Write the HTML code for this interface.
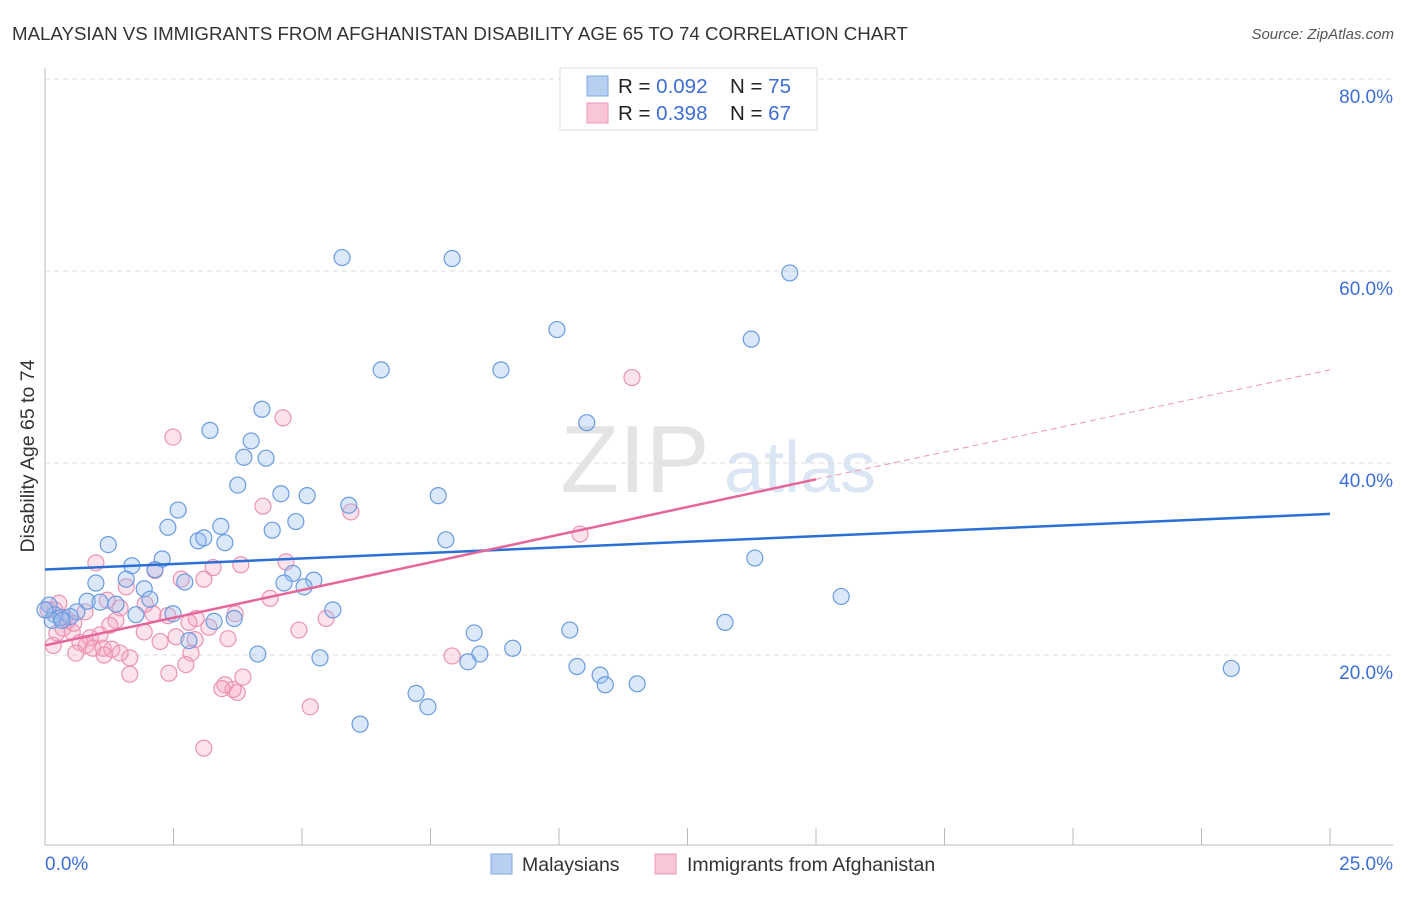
<!DOCTYPE html>
<html><head><meta charset="utf-8"><style>
body{margin:0;background:#fff;font-family:"Liberation Sans",sans-serif;}
svg text{font-family:"Liberation Sans",sans-serif;}
</style></head><body>
<svg id="chart" width="1406" height="892" xmlns="http://www.w3.org/2000/svg">
<text x="12" y="40" font-size="18.7" fill="#333">MALAYSIAN VS IMMIGRANTS FROM AFGHANISTAN DISABILITY AGE 65 TO 74 CORRELATION CHART</text>
<text x="1394" y="39" font-size="15" fill="#555" font-style="italic" text-anchor="end">Source: ZipAtlas.com</text>
<text x="635" y="492" font-size="96" fill="#e4e4e4" font-family="Liberation Serif" text-anchor="middle">ZIP</text>
<text x="800" y="492" font-size="72" fill="#dbe6f5" text-anchor="middle">atlas</text>
<g id="grid"></g><g id="axes"></g><g id="pts"></g><g id="trends"></g>
<text transform="translate(34,456) rotate(-90)" font-size="19.5" fill="#333" text-anchor="middle">Disability Age 65 to 74</text>
<g>
<rect x="560" y="68" width="257" height="62" fill="#fff" stroke="#ddd"/>
<rect x="587" y="76" width="21" height="20" fill="#b7d0f2" stroke="#7fa8e0"/>
<rect x="587" y="103" width="21" height="20" fill="#f8c6d6" stroke="#eb9ab5"/>
<text x="618" y="93" font-size="20.5" fill="#222">R = <tspan fill="#3d6fd6">0.092</tspan></text>
<text x="730" y="93" font-size="20.5" fill="#222">N = <tspan fill="#3d6fd6">75</tspan></text>
<text x="618" y="120" font-size="20.5" fill="#222">R = <tspan fill="#3d6fd6"> 0.398</tspan></text>
<text x="730" y="120" font-size="20.5" fill="#222">N = <tspan fill="#3d6fd6">67</tspan></text>
</g>
<g>
<rect x="491" y="854" width="21" height="20" fill="#b7d0f2" stroke="#7fa8e0"/>
<text x="522" y="871" font-size="19.5" fill="#333">Malaysians</text>
<rect x="655" y="854" width="21" height="20" fill="#f8c6d6" stroke="#eb9ab5"/>
<text x="687" y="871" font-size="19.5" fill="#333">Immigrants from Afghanistan</text>
</g>
</svg>
<script>
const yTicks=[20,40,60,80];
const yTickLabels=["20.0%","40.0%","60.0%","80.0%"];
const xTicks=[0,2.5,5,7.5,10,12.5,15,17.5,20,22.5,25];
const blueX=[5.78,7.92,14.49,9.96,13.74,6.54,8.87,4.22,3.21,10.54,4.01,3.87,4.30,3.75,4.59,5.10,7.65,5.91,2.59,4.88,2.39,4.42,3.42,2.98,3.09,3.50,7.80,1.23,2.28,13.81,1.69,2.14,0.99,1.58,2.72,4.82,4.65,5.23,5.04,1.93,15.49,2.04,0.82,1.07,1.38,0.62,5.60,2.49,1.77,0.08,0.19,0.31,0.49,0.14,3.29,3.68,13.23,8.35,10.21,9.10,2.80,8.46,4.14,5.35,8.23,10.35,10.80,10.90,11.52,23.08,7.22,7.45,6.13,0.33,0.0];
const blueY=[61.4,61.3,59.8,53.9,52.9,49.7,49.7,45.6,43.4,44.2,42.3,40.6,40.5,37.7,36.8,36.6,36.6,35.6,35.1,33.9,33.3,33.0,33.4,31.9,32.2,31.7,32.0,31.5,30.0,30.1,29.3,28.9,27.5,27.9,27.6,28.5,27.5,27.8,27.1,26.9,26.1,25.8,25.6,25.5,25.3,24.5,24.7,24.3,24.2,25.2,24.2,23.9,24.0,23.6,23.5,23.8,23.4,22.3,22.6,20.7,21.5,20.1,20.1,19.7,19.3,18.8,17.9,16.9,17.0,18.6,16.0,14.6,12.8,23.6,24.7];
const pinkX=[2.49,4.63,11.42,4.24,5.95,10.41,0.99,4.69,3.81,3.27,2.14,2.65,3.09,1.58,4.38,1.21,1.95,0.27,1.46,2.39,2.94,2.10,3.70,5.47,2.80,0.06,0.45,0.78,1.38,0.35,0.53,4.94,1.93,2.55,1.07,0.88,0.80,0.68,1.13,1.30,2.24,3.56,0.16,0.60,0.93,1.46,2.84,1.15,1.65,2.74,7.92,1.65,2.41,3.85,3.50,3.66,3.44,3.74,5.16,3.09,0.23,0.39,1.26,2.92,3.19,0.56,0.19];
const pinkY=[42.7,44.7,48.9,35.5,34.9,32.6,29.6,29.7,29.4,29.1,28.8,27.9,27.9,27.1,25.9,25.7,25.3,25.4,24.9,24.1,23.8,24.3,24.3,23.8,23.4,24.7,23.6,24.5,23.6,22.8,22.4,22.6,22.4,21.9,22.1,21.8,21.0,21.3,20.7,20.6,21.4,21.7,21.0,20.2,20.7,20.2,20.2,20.0,19.7,19.0,19.9,18.0,18.1,17.7,16.9,16.4,16.5,16.1,14.6,10.3,22.3,23.9,23.1,21.6,22.9,23.3,24.7];
const blueTrend=[28.9,34.7];
const pinkTrend=[21.0,38.3,49.7];
const NS="http://www.w3.org/2000/svg";
const sx=v=>45+v/25*1285;
const sy=v=>847-v*9.6;
function mk(tag,attrs,parent){const e=document.createElementNS(NS,tag);for(const k in attrs)e.setAttribute(k,attrs[k]);document.getElementById(parent).appendChild(e);return e;}
yTicks.forEach((t,i)=>{
 const l=mk('line',{x1:45,x2:1393,y1:sy(t),y2:sy(t),stroke:'#dcdcdc','stroke-dasharray':'5,4'},'grid');
 
 
 const tx=mk('text',{x:1393,y:sy(t)+24,'font-size':19,fill:'#3d6fd6','text-anchor':'end'},'grid');
 tx.textContent=yTickLabels[i];
 
 
});
const ax=mk('line',{x1:45,x2:45,y1:68,y2:845,stroke:'#bbb'},'axes');


const bx=mk('line',{x1:45,x2:1393,y1:845,y2:845,stroke:'#bbb'},'axes');


xTicks.forEach(t=>{
 const l=mk('line',{x1:sx(t),x2:sx(t),y1:828,y2:845,stroke:'#bbb'},'axes');
 
 
});
const x0=mk('text',{x:45,y:870,'font-size':19,fill:'#3d6fd6'},'axes');x0.textContent='0.0%';


const x1=mk('text',{x:1393,y:870,'font-size':19,fill:'#3d6fd6','text-anchor':'end'},'axes');x1.textContent='25.0%';


pinkX.forEach((v,i)=>{
 const c=mk('circle',{cx:sx(v),cy:sy(pinkY[i]),r:8,fill:'rgba(244,160,190,0.3)',stroke:'#eb93b2','stroke-width':1.2},'pts');
 
 
});
blueX.forEach((v,i)=>{
 const c=mk('circle',{cx:sx(v),cy:sy(blueY[i]),r:8,fill:'rgba(150,190,240,0.35)',stroke:'#6a9be0','stroke-width':1.2},'pts');
 
 
});
const bt=mk('line',{x1:sx(0),y1:sy(blueTrend[0]),x2:sx(25),y2:sy(blueTrend[1]),stroke:'#2a6fd6','stroke-width':2.5},'trends');


const pt=mk('line',{x1:sx(0),y1:sy(pinkTrend[0]),x2:sx(15),y2:sy(pinkTrend[1]),stroke:'#e5679a','stroke-width':2.5},'trends');


const pd=mk('line',{x1:sx(15),y1:sy(pinkTrend[1]),x2:sx(25),y2:sy(pinkTrend[2]),stroke:'#e898b5','stroke-width':1,'stroke-dasharray':'6,4'},'trends');


</script>
</body></html>
